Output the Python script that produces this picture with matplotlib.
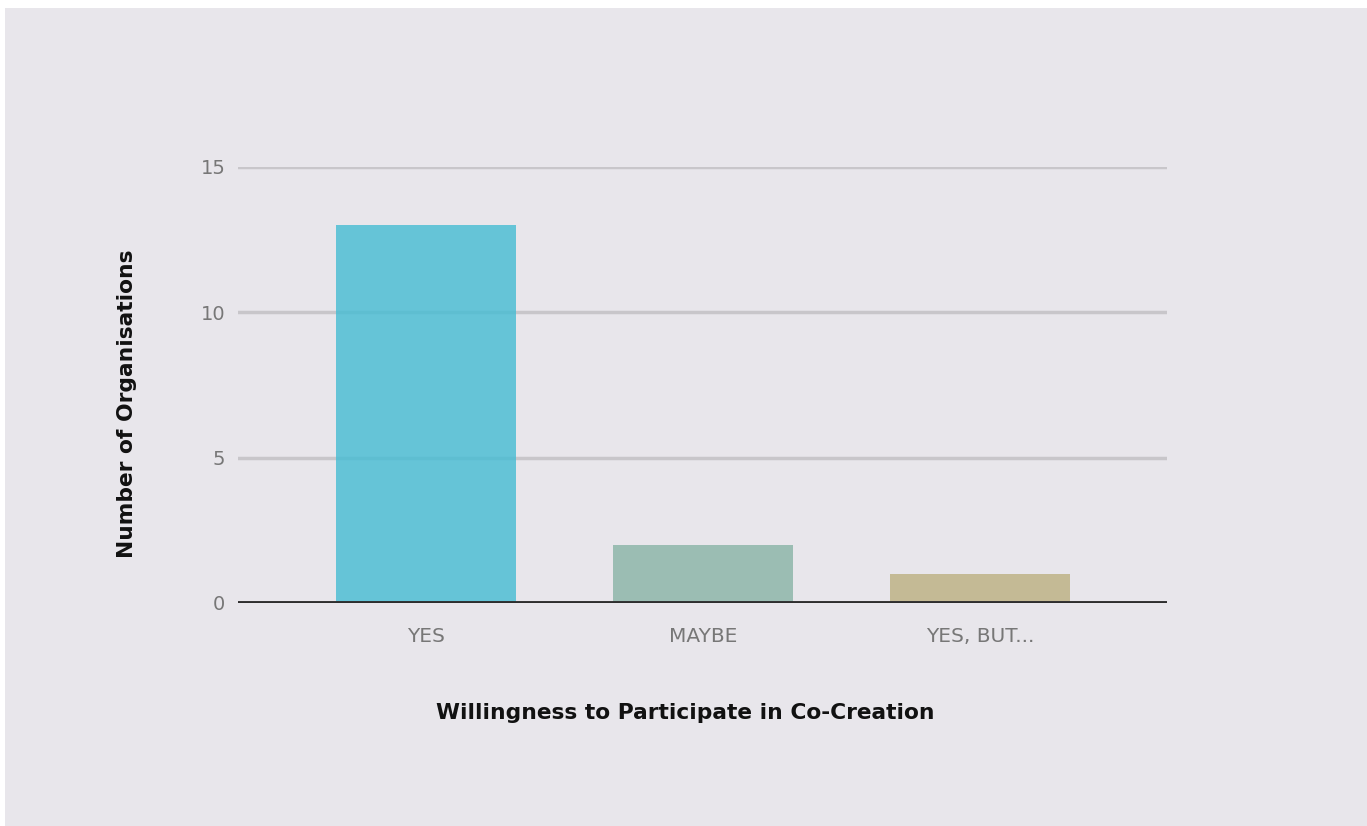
import matplotlib
matplotlib.use("Agg")
import matplotlib.pyplot as plt

categories = ["YES", "MAYBE", "YES, BUT..."]
counts = [13, 2, 1]
bar_colors = ["#44bcd3", "#88b3a6", "#bbb080"]
y_ticks = [0, 5, 10, 15]

bg = "#e8e6eb"

fig = plt.figure(figsize=(13.67, 8.26), dpi=100, facecolor=bg)
# thin white margin along the top and left edges
fig.patches.append(plt.Rectangle((0, 1 - 8 / 826), 1, 8 / 826, transform=fig.transFigure,
                                 facecolor="white", edgecolor="none", zorder=-10))
fig.patches.append(plt.Rectangle((0, 0), 5 / 1367, 1, transform=fig.transFigure,
                                 facecolor="white", edgecolor="none", zorder=-10))

ax = fig.add_axes([238 / 1367, 1 - 603 / 826, (1167 - 238) / 1367, (603 - 167) / 826])
ax.set_facecolor("none")

x = list(range(len(categories)))
ax.bar(x, counts, width=0.65, color=bar_colors, alpha=0.8, zorder=2)

ax.set_xlim(-0.68, 2.675)
ax.set_ylim(0, 15)
ax.set_yticks(y_ticks)
ax.set_xticks(x)
ax.set_xticklabels(categories)

for v in y_ticks[1:]:
    ax.axhline(v, color="#c8c6ca", lw=2.5, zorder=1)
ax.axhline(0, color="#2e2e2e", lw=2.8, zorder=3)

for s in ax.spines.values():
    s.set_visible(False)

ax.tick_params(axis="both", length=0, labelcolor="#777777")
ax.tick_params(axis="y", pad=9, labelsize=14)
ax.tick_params(axis="x", pad=17, labelsize=14.5)
for lbl in ax.get_xticklabels() + ax.get_yticklabels():
    lbl.set_family("DejaVu Sans")

ax.set_xlabel("Willingness to Participate in Co-Creation", fontsize=15.7,
              fontweight="bold", family="DejaVu Sans", color="#111111")
ax.set_ylabel("Number of Organisations", fontsize=15.7,
              fontweight="bold", family="DejaVu Sans", color="#111111")
ax.xaxis.set_label_coords(0.4817, -0.229)
ax.yaxis.set_label_coords(-0.1087, 0.4576)

fig.savefig("out.png", dpi=100, facecolor=bg)
